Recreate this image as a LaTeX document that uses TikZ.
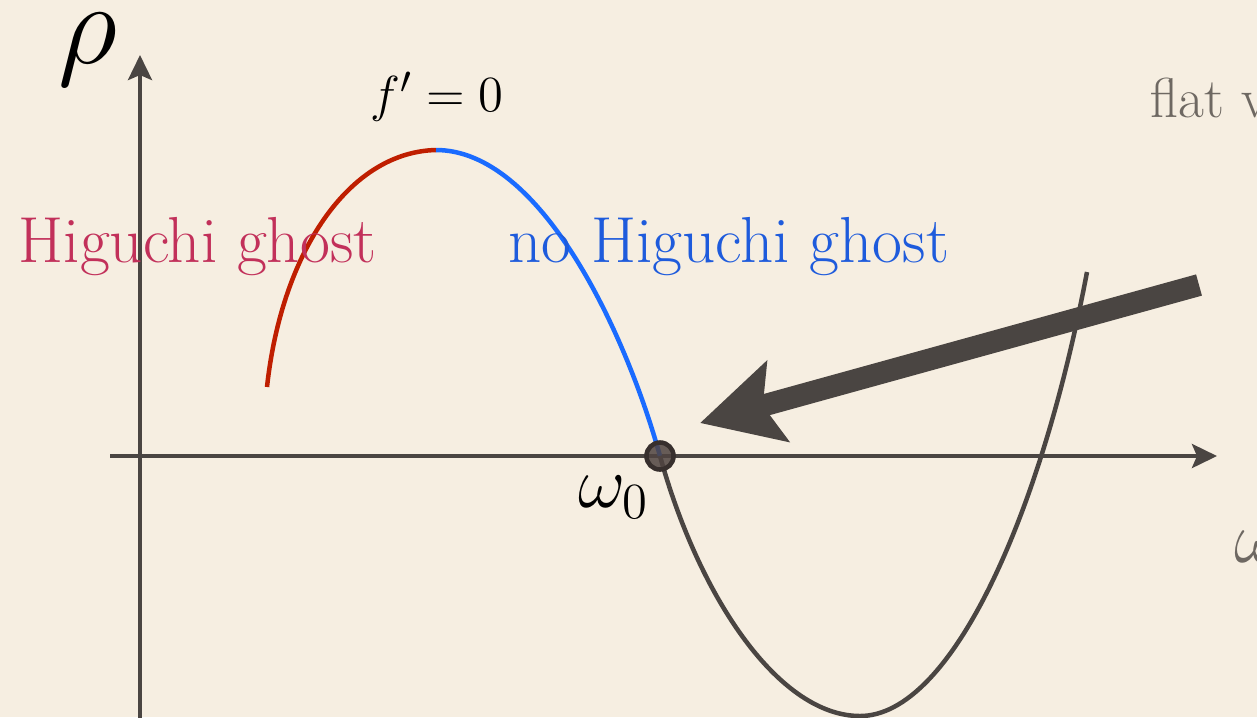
\documentclass[tikz,border=0pt]{standalone}
\usepackage{amsmath}
\usetikzlibrary{arrows.meta,positioning}
\definecolor{paper}{HTML}{F6EEE1}
\definecolor{ink}{HTML}{4A4542}
\definecolor{branchred}{HTML}{BF1E00}
\definecolor{branchblue}{HTML}{1A6BFF}
\definecolor{ghostred}{HTML}{C2305A}
\definecolor{ghostblue}{HTML}{1E5BDC}
\definecolor{notegray}{HTML}{6E6862}
\definecolor{dotbrown}{HTML}{4F4340}
\tikzset{
  axis/.style={
    -{Stealth[length=0.25cm, width=0.24cm, inset=0.05cm]},
    line width=0.04cm, color=ink
  },
  branch/.style={
    line width=0.045cm, color=#1
  },
  branch/.default=ink,
  bigarrow/.style={
    -{Stealth[length=0.8cm, width=0.82cm, inset=0.15cm]},
    line width=0.22cm, color=ink
  },
  wdot/.style={
    circle, draw=dotbrown!70!black, fill=dotbrown, fill opacity=0.85,
    line width=1.3pt, minimum size=0.27cm, inner sep=0pt
  },
  ghostlabel/.style={
    font=\fontsize{18.5}{22}\selectfont, text=#1, inner sep=0pt, anchor=base west
  },
  mathlabel/.style={
    inner sep=0pt, text=black
  },
}

\begin{document}
\begin{tikzpicture}[x=0.01cm, y=-0.01cm]
  % Canvas
  \fill[paper] (0,0) rectangle (1257,717);
  \useasboundingbox (0,0) rectangle (1257,717);
  \clip (0,0) rectangle (1257,717);

  % Axes
  \coordinate (xstart) at (110,456);
  \coordinate (xend) at (1217,456);
  \coordinate (ystart) at (140,720);
  \coordinate (yend) at (140,55);
  \draw[axis] (xstart) -- (xend);
  \draw[axis] (ystart) -- (yend);

  % Curve f(omega)
  \coordinate (start) at (267,387);
  \coordinate (peak) at (436,150);
  \coordinate (w0) at (660,456);
  \coordinate (bottom) at (860,716);
  \coordinate (end) at (1087,272);
  \draw[branch=branchred] (start) .. controls (282,250) and (350,152) .. (peak);
  \draw[branch=branchblue] (peak) .. controls (540,150) and (625,330) .. (w0);
  \draw[branch] (w0) .. controls (700,600) and (780,716) .. (bottom)
    .. controls (950,716) and (1040,520) .. (end);
  \node[wdot] (w0dot) at (w0) {};

  % Big arrow
  \coordinate (tail) at (1199,285);
  \coordinate (tip) at (700,423);
  \draw[bigarrow] (tail) -- (tip);

  % Labels
  \node[mathlabel, font=\Huge, scale=1.33] (rho) at (88,50) {$\rho$};
  \node[mathlabel, font=\fontsize{15}{15}\selectfont] (fzero) at (437,97) {$f'=0$};
  \node[mathlabel, font=\fontsize{21}{21}\selectfont] (w0lbl) at (614,497) {$\omega_0$};
  \node[ghostlabel=ghostred] (ghost) at (18,262) {Higuchi ghost};
  \node[ghostlabel=ghostblue] (noghost) at (508,262) {no Higuchi ghost};
  \node[ghostlabel=notegray, font=\fontsize{16}{19}\selectfont] (flat) at (1150,117) {flat v};
  \node[mathlabel, text=notegray, font=\fontsize{20}{20}\selectfont, anchor=base west]
    (wlbl) at (1234,562) {$\omega$};
\end{tikzpicture}
\end{document}
